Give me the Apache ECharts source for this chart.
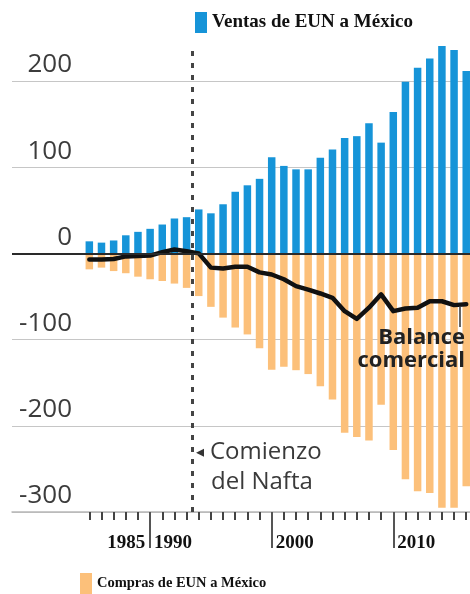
<!DOCTYPE html>
<html>
<head>
<meta charset="utf-8">
<script src="https://cdn.jsdelivr.net/npm/echarts@6/dist/echarts.min.js"></script>
<style>html,body{margin:0;padding:0;background:#fff}#c{width:470px;height:594px}</style>
</head>
<body>
<div id="c"></div>
<script>
// ---- data (billions of US$) ----
const years = [1985,1986,1987,1988,1989,1990,1991,1992,1993,1994,1995,1996,1997,1998,1999,2000,
               2001,2002,2003,2004,2005,2006,2007,2008,2009,2010,2011,2012,2013,2014,2015,2016];
const ventas = [14,12.5,15,21,25,28.5,33.5,40.5,42,51,46.5,57,71.5,79,86.5,111.5,
                101.5,97.5,97.5,111,120.5,134,136,151,128.5,164,199,215.5,226,240.5,236,211.5];
const compras = [-18.5,-16.5,-20.5,-23,-27,-30,-32,-35,-40,-49.5,-62,-74.5,-86,-94,-110,-135,
                 -131.5,-135.5,-140,-154,-169.5,-208,-213,-217,-175.5,-228,-262,-276,-278,-295,-295,-270];
const balance = [-7,-7,-6.5,-3.5,-3,-2.5,1.5,4.5,2.5,0,-16.5,-17.5,-15.5,-15.5,-22,-24.5,
                 -30,-38,-42,-46.5,-51.5,-67,-76,-63,-47.5,-67,-64,-63,-55.5,-55.5,-60,-59];
const xTickLabels = ['1985','1990','2000','2010'];
const xTickLabelYears = [1985,1990,2000,2010];
const majorTickYears = [1990,2000,2010];
const naftaYear = 1993.5;
const naftaTop = 236;
const seriesNames = ['Ventas de EUN a México','Compras de EUN a México','Balance comercial'];

const X_MIN = 1978.64, X_MAX = 2016.31;
const serif = "'Liberation Serif','Times New Roman',serif";
const sans = "'Open Sans','Noto Sans',sans-serif";

const chart = echarts.init(document.getElementById('c'), null, {renderer:'canvas'});
chart.setOption({
  animation: false,
  backgroundColor: '#fff',
  grid: {left: 12, right: 0, top: -5.2, bottom: 82, containLabel: false, outerBoundsMode: 'none'},
  legend: [
    {data: [seriesNames[0]], left: 195, top: 12, padding: 0, itemWidth: 12, itemHeight: 21,
     icon: 'rect', selectedMode: false,
     textStyle: {fontFamily: serif, fontWeight: 'bold', fontSize: 19, color: '#111'}},
    {data: [seriesNames[1]], left: 80, top: 573, padding: 0, itemWidth: 12, itemHeight: 21,
     icon: 'rect', selectedMode: false,
     textStyle: {fontFamily: serif, fontWeight: 'bold', fontSize: 14.5, color: '#111'}}
  ],
  xAxis: [
    {type: 'value', min: X_MIN, max: X_MAX, position: 'bottom',
     axisLine: {onZero: false, lineStyle: {color: '#b8b8b8', width: 1.5}},
     axisTick: {show: true, customValues: years, length: 8, lineStyle: {color: '#444', width: 2}},
     axisLabel: {show: false}, splitLine: {show: false}},
    {type: 'value', min: X_MIN, max: X_MAX, position: 'bottom',
     axisLine: {show: false, onZero: false},
     axisTick: {show: true, customValues: majorTickYears, length: 36, lineStyle: {color: '#555', width: 2}},
     axisLabel: {
       show: true, customValues: xTickLabelYears, align: 'left', margin: 22,
       formatter: function (v) {
         const i = xTickLabelYears.indexOf(v);
         if (i < 0) return '';
         return (i === 0 ? '{a|' : '{b|') + xTickLabels[i] + '}';
       },
       rich: {
         a: {fontFamily: serif, fontWeight: 'bold', fontSize: 19, color: '#111', padding: [0,0,0,18]},
         b: {fontFamily: serif, fontWeight: 'bold', fontSize: 19, color: '#111', padding: [0,0,0,4]}
       }
     },
     splitLine: {show: false}}
  ],
  yAxis: {
    type: 'value', min: -300, max: 300, interval: 100,
    axisLine: {show: false}, axisTick: {show: false},
    splitLine: {show: true, lineStyle: {color: '#c6c6c6', width: 1}},
    axisLabel: {inside: true, margin: 60, align: 'right', verticalAlign: 'bottom',
                padding: [0,0,3,0], fontFamily: sans, fontSize: 26, color: '#3c3c3c'}
  },
  series: [
    {name: seriesNames[0], type: 'bar', stack: 'trade', xAxisIndex: 0,
     data: years.map((y, i) => [y, ventas[i]]), barWidth: 7.5,
     itemStyle: {color: '#1694d8'}, z: 2},
    {name: seriesNames[1], type: 'bar', stack: 'trade', xAxisIndex: 0,
     data: years.map((y, i) => [y, compras[i]]), barWidth: 7.5,
     itemStyle: {color: '#fcc07a'}, z: 2},
    {name: seriesNames[2], type: 'line', xAxisIndex: 0,
     data: years.map((y, i) => [y, balance[i]]), symbol: 'none',
     lineStyle: {color: '#111', width: 4.5, join: 'round', cap: 'round'}, z: 4,
     markLine: {
       silent: true, symbol: 'none', label: {show: false},
       data: [
         {yAxis: 0, lineStyle: {color: '#2a2a2a', width: 2, type: 'solid'}},
         [{coord: [naftaYear, -300], lineStyle: {color: '#444', width: 3, type: [5, 7]}},
          {coord: [naftaYear, naftaTop]}]
       ]
     }}
  ],
  graphic: [
    {type: 'line', shape: {x1: 460, y1: 306, x2: 460, y2: 327}, style: {stroke: '#333', lineWidth: 1.5}, z: 10},
    {type: 'text', x: 465, y: 326, z: 10,
     style: {text: 'Balance\ncomercial', align: 'right', verticalAlign: 'top',
             font: "bold 22px 'Open Sans', sans-serif", lineHeight: 23, fill: '#222'}},
    {type: 'text', x: 196, y: 445, z: 10,
     style: {text: '◂', align: 'left', verticalAlign: 'top', font: "16px 'DejaVu Sans', sans-serif", fill: '#333'}},
    {type: 'text', x: 210, y: 440, z: 10,
     style: {text: 'Comienzo', align: 'left', verticalAlign: 'top', font: "24px 'Open Sans', sans-serif", fill: '#3a3a3a'}},
    {type: 'text', x: 211, y: 470, z: 10,
     style: {text: 'del Nafta', align: 'left', verticalAlign: 'top', font: "24px 'Open Sans', sans-serif", fill: '#3a3a3a'}}
  ]
});
</script>
</body>
</html>
